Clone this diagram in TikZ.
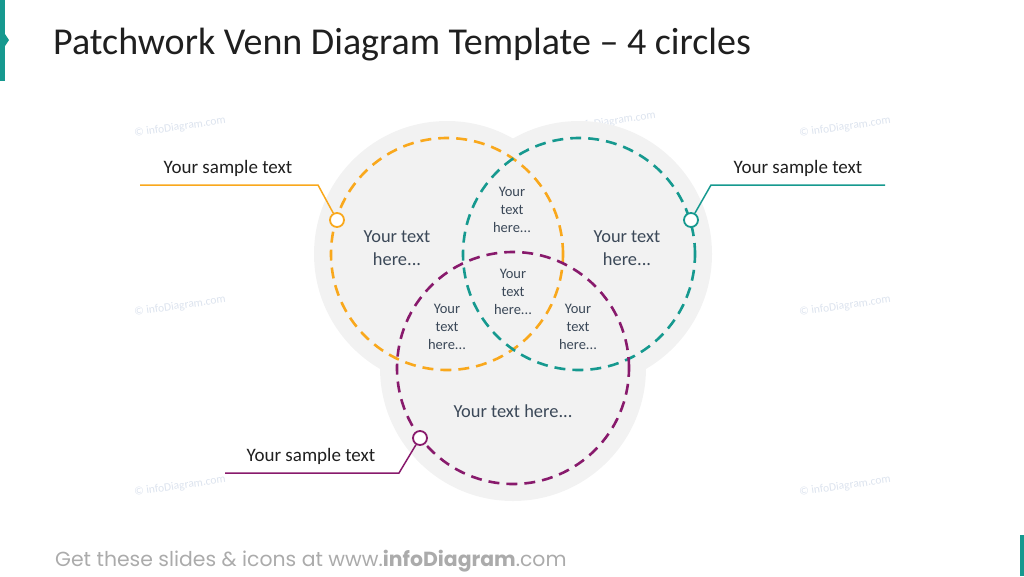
\documentclass[tikz,border=0pt]{standalone}
\usepackage{fontspec}
\setmainfont{Carlito}
\newfontfamily\footfont{Poppins}
\definecolor{vorange}{HTML}{F9A81C}
\definecolor{vteal}{HTML}{16998F}
\definecolor{vpurple}{HTML}{881A6C}
\definecolor{blobgray}{HTML}{F2F2F2}
\definecolor{txtc}{HTML}{3B4858}
\definecolor{wmark}{HTML}{DCE3EE}
\definecolor{footgray}{HTML}{ABABAB}
\tikzset{
  dcirc/.style={line width=2.6pt, dash pattern=on 11pt off 7pt},
  marker/.style={circle, draw, fill=white, line width=1.8pt, minimum size=14pt, inner sep=0pt},
  conn/.style={line width=1.5pt},
  lbl/.style={font=\fontsize{19}{22}\selectfont, text=black!88, inner sep=0pt},
  bigtxt/.style={font=\fontsize{18.4}{23}\selectfont, text=txtc, align=center, inner sep=0pt},
  smalltxt/.style={font=\fontsize{14.5}{18}\selectfont, text=txtc, align=center, inner sep=0pt},
  wm/.style={font=\fontsize{11.5}{12}\selectfont, text=wmark, rotate=8, inner sep=0pt}
}
\begin{document}
\begin{tikzpicture}[x=1pt,y=-1pt]
\useasboundingbox (0,0) rectangle (1024,576);
% side markers
\fill[vteal] (0,0) rectangle (5,81);
\fill[vteal] (5,34) -- (9,40) -- (5,46) -- cycle;
\fill[vteal] (1020,535) rectangle (1024,576);
% title
\node[anchor=base west, inner sep=0pt, font=\fontsize{38}{44}\selectfont, text=black!88] (title) at (53,54) {Patchwork Venn Diagram Template -- 4 circles};
% watermarks
\foreach \p/\n in {{180,127}/w1,{845,127}/w2,{180,306}/w3,{845,306}/w4,{180,486}/w5,{845,486}/w6,{610,122}/w7}
  \node[wm] (\n) at (\p) {\copyright{} infoDiagram.com};
% gray blob
\fill[blobgray] (447,254) circle (133pt);
\fill[blobgray] (579,254) circle (133pt);
\fill[blobgray] (513,368) circle (133pt);
% dashed circles
\draw[dcirc, vorange] (447,254) circle (116pt);
\draw[dcirc, vteal] (579,254) circle (116pt);
\draw[dcirc, vpurple] (513,368) circle (116pt);
% texts
\node[bigtxt] (ta) at (397,248) {Your text\\here...};
\node[bigtxt] (tb) at (627,248) {Your text\\here...};
\node[bigtxt] (tc) at (513,411) {Your text here...};
\node[smalltxt] (tab) at (512,210) {Your\\text\\here...};
\node[smalltxt] (tabc) at (513,292) {Your\\text\\here...};
\node[smalltxt] (tac) at (447,327) {Your\\text\\here...};
\node[smalltxt] (tbc) at (578,327) {Your\\text\\here...};
% connectors
\coordinate (oa) at (140,185);
\coordinate (ob) at (318,185);
\node[marker, draw=vorange] (mo) at (337,220) {};
\draw[conn, vorange] (oa) -- (ob) -- (mo);
\node[lbl, anchor=base] (lo) at (228,173) {Your sample text};
\coordinate (ta1) at (885,185);
\coordinate (tb1) at (711,185);
\node[marker, draw=vteal] (mt) at (691,220) {};
\draw[conn, vteal] (ta1) -- (tb1) -- (mt);
\node[lbl, anchor=base] (lt) at (798,173) {Your sample text};
\coordinate (pa) at (225,473);
\coordinate (pb) at (399,473);
\node[marker, draw=vpurple] (mp) at (420,438) {};
\draw[conn, vpurple] (pa) -- (pb) -- (mp);
\node[lbl, anchor=base] (lp) at (311,461) {Your sample text};
% footer
\node[anchor=base west, inner sep=0pt, font=\footfont\fontsize{20.4}{24}\selectfont, text=footgray] (foot) at (55,566) {Get these slides \& icons at www.\textbf{infoDiagram}.com};
\end{tikzpicture}
\end{document}
